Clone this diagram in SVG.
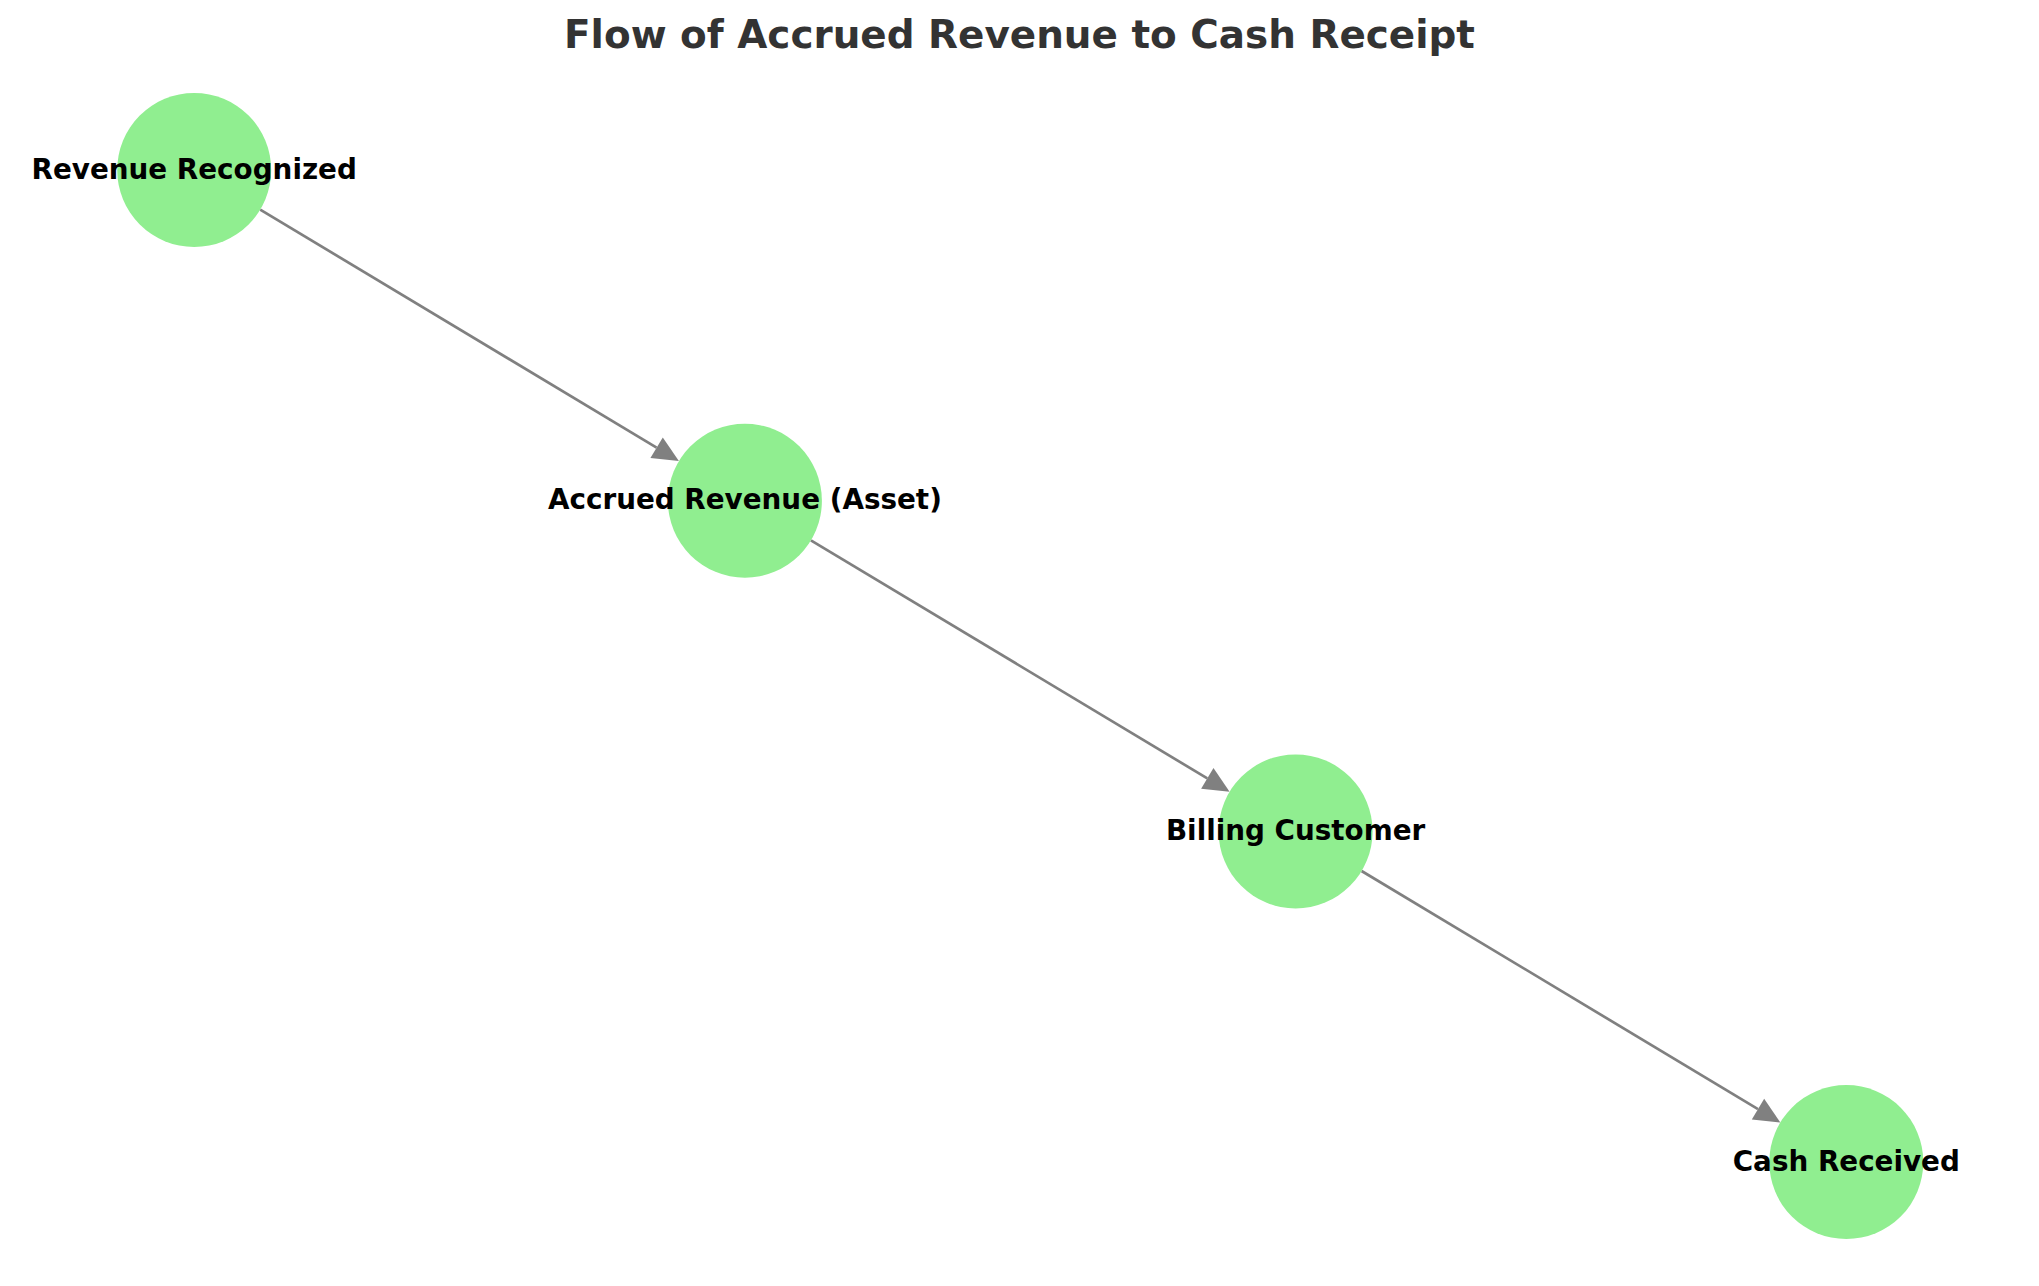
<svg xmlns="http://www.w3.org/2000/svg" width="2039" height="1286" viewBox="0 0 2039 1286">
<style>
.node{fill:#90ee90}
.lbl{font-family:"DejaVu Sans",sans-serif;font-weight:bold;font-size:27.8px;fill:#000;text-anchor:middle}
.title{font-family:"DejaVu Sans",sans-serif;font-weight:bold;font-size:38.9px;fill:#333333;text-anchor:middle}
.edge{stroke:#808080;stroke-width:2.7;fill:none}
</style>
<defs>
<marker id="arr" markerUnits="userSpaceOnUse" markerWidth="30" markerHeight="30" refX="0" refY="0" orient="auto" overflow="visible">
<path d="M0,-12 L26,0 L0,12 z" fill="#808080"/>
</marker>
</defs>
<rect width="2039" height="1286" fill="#ffffff"/>
<text class="title" x="1019.5" y="48">Flow of Accrued Revenue to Cash Receipt</text>
<g id="connectors">
<line class="edge" x1="260.2" y1="209.6" x2="656.6" y2="447.7" marker-end="url(#arr)"/>
<line class="edge" x1="810.9" y1="540.3" x2="1207.3" y2="778.4" marker-end="url(#arr)"/>
<line class="edge" x1="1361.6" y1="871.0" x2="1758.0" y2="1109.1" marker-end="url(#arr)"/>
</g>
<g id="node-revenue-recognized">
<circle class="node" cx="194.2" cy="170" r="77"/>
<text class="lbl" x="194.2" y="179">Revenue Recognized</text>
</g>
<g id="node-accrued-revenue">
<circle class="node" cx="744.9" cy="500.7" r="77"/>
<text class="lbl" x="744.9" y="509">Accrued Revenue (Asset)</text>
</g>
<g id="node-billing-customer">
<circle class="node" cx="1295.6" cy="831.4" r="77"/>
<text class="lbl" x="1295.6" y="840">Billing Customer</text>
</g>
<g id="node-cash-received">
<circle class="node" cx="1846.3" cy="1162.1" r="77"/>
<text class="lbl" x="1846.3" y="1170.7">Cash Received</text>
</g>
</svg>
